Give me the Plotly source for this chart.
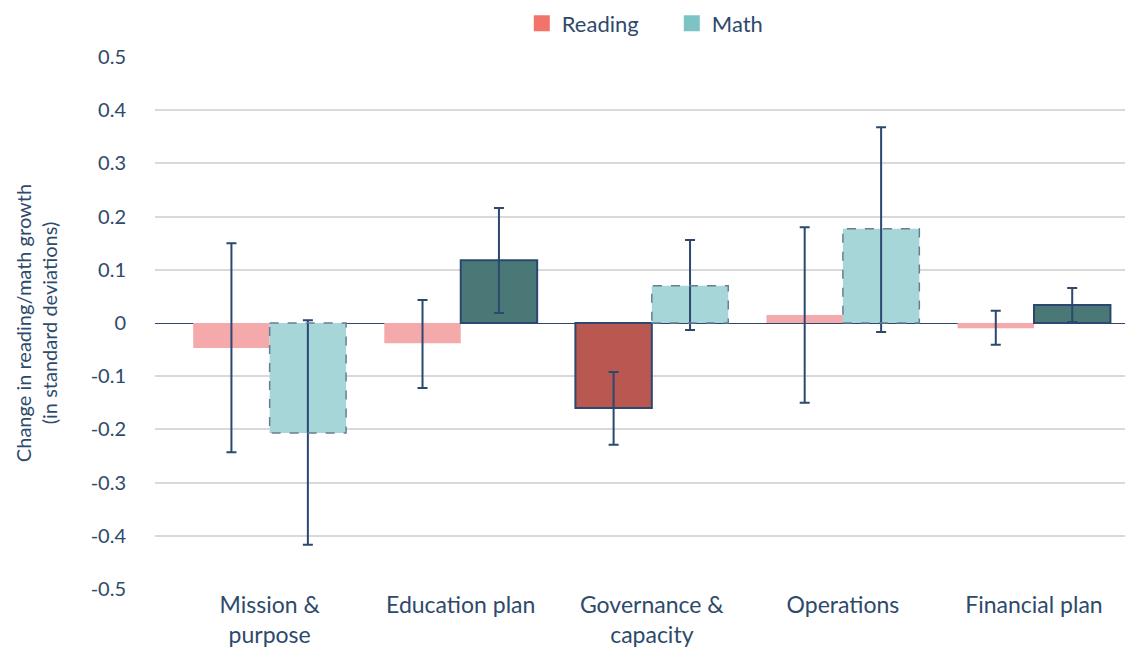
import plotly.graph_objects as go

categories = ["Mission &<br>purpose", "Education plan", "Governance &<br>capacity", "Operations", "Financial plan"]

reading = [-0.047, -0.038, -0.160, 0.015, -0.010]
reading_hi = [0.150, 0.043, -0.092, 0.180, 0.023]
reading_lo = [-0.243, -0.122, -0.229, -0.150, -0.041]
reading_sig = [False, False, True, False, False]

math = [-0.207, 0.118, 0.070, 0.177, 0.034]
math_hi = [0.005, 0.216, 0.156, 0.368, 0.066]
math_lo = [-0.417, 0.019, -0.013, -0.017, 0.002]
math_sig = [False, True, False, False, True]

y_ticks = [-0.5, -0.4, -0.3, -0.2, -0.1, 0, 0.1, 0.2, 0.3, 0.4, 0.5]

NAVY = "#2c4770"
TEXT = "#2e4a6b"
GAP = 0.2
bar_w = (1 - GAP) / 2

fig = go.Figure()

fig.add_trace(go.Bar(
    x=categories, y=reading, name="Reading", showlegend=False,
    marker=dict(
        color=["#b95751" if s else "#f4a9ab" for s in reading_sig],
        line=dict(color=NAVY, width=[2 if s else 0 for s in reading_sig]),
    ),
    error_y=dict(type="data", symmetric=False,
                 array=[h - v for h, v in zip(reading_hi, reading)],
                 arrayminus=[v - l for v, l in zip(reading, reading_lo)],
                 color=NAVY, thickness=2, width=5),
))

fig.add_trace(go.Bar(
    x=categories, y=math, name="Math", showlegend=False,
    marker=dict(
        color=["#4a7876" if s else "#a6d6d8" for s in math_sig],
        line=dict(color=NAVY, width=[2 if s else 0 for s in math_sig]),
    ),
    error_y=dict(type="data", symmetric=False,
                 array=[h - v for h, v in zip(math_hi, math)],
                 arrayminus=[v - l for v, l in zip(math, math_lo)],
                 color=NAVY, thickness=2, width=5),
))

# dashed outline for non-significant math bars
for i, (v, s) in enumerate(zip(math, math_sig)):
    if not s:
        fig.add_shape(type="rect", xref="x", yref="y",
                      x0=i, x1=i + bar_w, y0=0, y1=v,
                      line=dict(color="#667d96", width=1.5, dash="dash"),
                      fillcolor="rgba(0,0,0,0)", layer="above")

# legend entries
for name, col in [("Reading", "#f2736c"), ("Math", "#7cc4c4")]:
    fig.add_trace(go.Scatter(x=[None], y=[None], mode="markers", name=name,
                             marker=dict(symbol="square", size=20, color=col)))

fig.update_layout(
    width=1133, height=656,
    barmode="group", bargap=GAP, bargroupgap=0,
    plot_bgcolor="white", paper_bgcolor="white",
    margin=dict(l=147, r=0, t=49, b=75, autoexpand=False),
    font=dict(family="Lato", color=TEXT),
    legend=dict(orientation="h", x=0.372, xanchor="left", y=1.063, yanchor="middle",
                entrywidth=105, font=dict(size=22, color=TEXT), itemsizing="trace"),
    xaxis=dict(range=[-0.60, 4.56], tickfont=dict(size=23, color=TEXT),
               showgrid=False, showline=False),
    yaxis=dict(range=[-0.5, 0.5], tickvals=y_ticks,
               ticktext=[f"{t:g}" for t in y_ticks],
               gridcolor="#d9d9d9", gridwidth=1.5,
               zeroline=True, zerolinecolor=NAVY, zerolinewidth=1.2,
               tickfont=dict(size=20, color=TEXT), ticklabelstandoff=28,
               title=dict(text="Change in reading/math growth<br>(in standard deviations)",
                          font=dict(size=20, color=TEXT), standoff=27)),
)

fig.write_html("out.html")
